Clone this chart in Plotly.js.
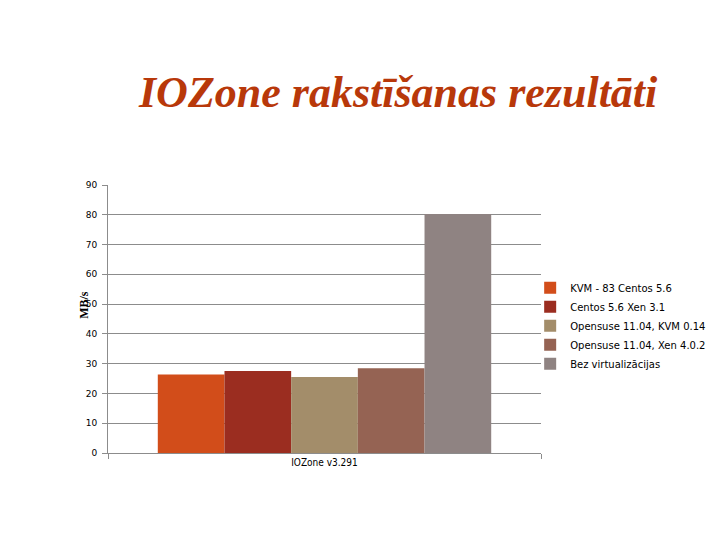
<!DOCTYPE html>
<html>
<head>
<meta charset="utf-8">
<script src="https://cdn.plot.ly/plotly-3.0.1.min.js"></script>
<style>
  body { margin: 0; background: #fff; }
  #chart { width: 720px; height: 540px; }
</style>
</head>
<body>
<div id="chart"></div>
<script>
var categories = ['IOZone v3.291'];
var seriesNames = [
    'KVM - 83 Centos 5.6',
    'Centos 5.6 Xen 3.1',
    'Opensuse 11.04, KVM 0.14',
    'Opensuse 11.04, Xen 4.0.2',
    'Bez virtualizācijas'
];
var seriesValues = [26.4, 27.5, 25.5, 28.5, 80.3];
var seriesColors = ['#d24d1a', '#9b2d20', '#a38d6a', '#956353', '#8f8382'];

var data = [];
seriesNames.forEach((name, i) => {
    data.push({
        x: categories,
        y: [seriesValues[i]],
        name: name,
        type: 'bar',
        marker: { color: seriesColors[i] },
        hoverinfo: 'name+y'
    });
});

var layout = {
    width: 720,
    height: 540,
    paper_bgcolor: '#fff',
    plot_bgcolor: '#fff',
    barmode: 'group',
    bargap: 0.23,
    bargroupgap: 0,
    showlegend: true,
    title: {
        text: 'IOZone rakstīšanas rezultāti',
        font: { family: 'Liberation Serif', size: 44, color: '#b8380a', weight: 'bold', style: 'italic' },
        x: 0.553,
        xanchor: 'center',
        y: 0.83,
        yanchor: 'middle'
    },
    margin: { l: 108, r: 179, t: 185, b: 87, autoexpand: false },
    xaxis: {
        type: 'category',
        showline: true,
        linecolor: '#8c8c8c',
        ticks: 'outside',
        tickson: 'boundaries',
        ticklen: 5,
        tickcolor: '#8c8c8c',
        tickfont: { family: 'DejaVu Sans Condensed', size: 10, color: '#000' },
        showgrid: false
    },
    yaxis: {
        range: [0, 90],
        dtick: 10,
        showline: true,
        linecolor: '#8c8c8c',
        ticks: 'outside',
        ticklen: 5,
        tickcolor: '#8c8c8c',
        ticklabelstandoff: 3,
        gridcolor: '#8c8c8c',
        gridwidth: 1,
        zeroline: false,
        tickfont: { family: 'DejaVu Sans', size: 9, color: '#000' }
    },
    annotations: [{
        text: 'MB/s',
        xref: 'paper',
        yref: 'paper',
        x: -0.056,
        y: 0.552,
        xanchor: 'center',
        yanchor: 'middle',
        textangle: -90,
        showarrow: false,
        font: { family: 'Liberation Serif', size: 12, color: '#000', weight: 'bold' }
    }],
    legend: {
        x: 0.975,
        xanchor: 'left',
        y: 0.671,
        yanchor: 'top',
        font: { family: 'DejaVu Sans', size: 10, color: '#000' },
        tracegroupgap: 0,
        itemwidth: 30,
        bgcolor: 'rgba(0,0,0,0)'
    }
};

Plotly.newPlot('chart', data, layout, { displayModeBar: false });
</script>
</body>
</html>
